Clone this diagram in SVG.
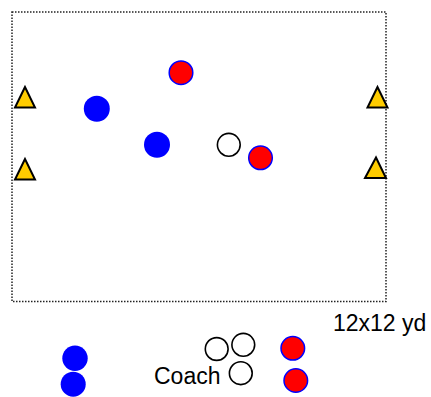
<svg xmlns="http://www.w3.org/2000/svg" width="431" height="397" viewBox="0 0 431 397">
<style>
.field{fill:none;stroke:#222;stroke-width:1.5;stroke-dasharray:1.5,1.5}
.blue{fill:#0000ff}
.red{fill:#ff0000;stroke:#0000ff;stroke-width:1.5}
.white{fill:#fff;stroke:#000;stroke-width:1.6}
.cone{fill:#ffcc00;stroke:#000;stroke-width:2;stroke-linejoin:miter}
.lbl{font-family:"Liberation Sans",Arial,sans-serif;font-size:23px;fill:#000}
</style>
<rect class="field" x="12" y="12" width="374" height="289.5"/>
<g id="cone1"><polygon class="cone" points="25,87 15,107.5 35,107.5"/></g>
<g id="cone2"><polygon class="cone" points="25,159 15,179.5 35,179.5"/></g>
<g id="cone3"><polygon class="cone" points="377.5,87 367.5,107.5 387.5,107.5"/></g>
<g id="cone4"><polygon class="cone" points="376,157.5 365,178 386,178"/></g>
<g id="red1"><circle class="red" cx="181" cy="72.7" r="11.8"/></g>
<g id="blue1"><circle class="blue" cx="96.8" cy="108.8" r="13"/></g>
<g id="blue2"><circle class="blue" cx="157" cy="144.7" r="13"/></g>
<g id="white1"><circle class="white" cx="228.8" cy="144.8" r="11.4"/></g>
<g id="red2"><circle class="red" cx="260.5" cy="157.8" r="11.8"/></g>
<g id="label-size"><text class="lbl" x="333" y="331">12x12 yd</text></g>
<g id="blue3"><circle class="blue" cx="75" cy="358.3" r="12.7"/></g>
<g id="blue4"><circle class="blue" cx="73.2" cy="384.2" r="12.5"/></g>
<g id="white2"><circle class="white" cx="216.7" cy="349" r="11.4"/></g>
<g id="white3"><circle class="white" cx="243.3" cy="344.8" r="11.4"/></g>
<g id="coach"><circle class="white" cx="240.8" cy="373.2" r="11.4"/><text class="lbl" x="154" y="383.5">Coach</text></g>
<g id="red3"><circle class="red" cx="292.8" cy="348.3" r="11.8"/></g>
<g id="red4"><circle class="red" cx="295.8" cy="380.5" r="11.8"/></g>
</svg>
